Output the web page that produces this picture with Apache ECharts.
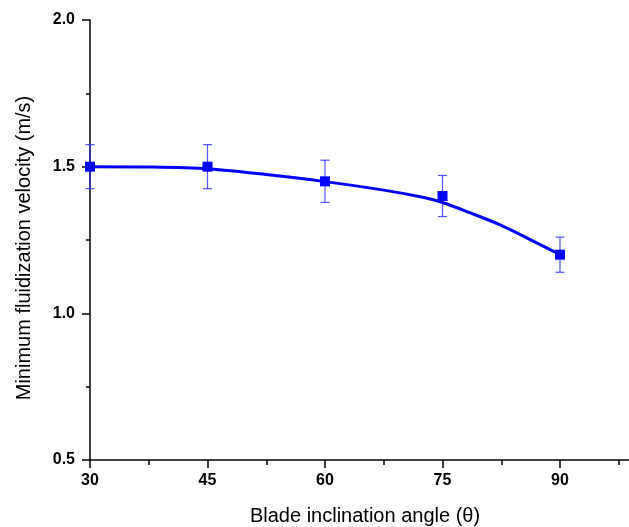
<!DOCTYPE html>
<html>
<head>
<meta charset="utf-8">
<script src="https://cdn.jsdelivr.net/npm/echarts@6/dist/echarts.min.js"></script>
<style>html,body{margin:0;padding:0;background:#fff}#c{width:629px;height:527px}</style>
</head>
<body>
<div id="c"></div>
<script>
// Measured points
var angles = [30, 45, 60, 75, 90];
var velocity = [1.50, 1.50, 1.45, 1.40, 1.20];
var errors = [0.075, 0.075, 0.072, 0.07, 0.06];
// Fitted curve
var fitAngles = [30, 37.5, 45, 52.5, 60, 67.5, 72, 75, 78.5, 82.5, 86, 90];
var fitVelocity = [1.500, 1.499, 1.493, 1.473, 1.449, 1.420, 1.398, 1.378, 1.343, 1.300, 1.254, 1.200];
var xTicks = [30, 45, 60, 75, 90];
var yTicks = [0.5, 1.0, 1.5, 2.0];

var chart = echarts.init(document.getElementById('c'), null, {renderer: 'canvas'});
var blue = '#0000ff';
var font = '"Liberation Sans", Arial, sans-serif';

var pts = angles.map(function (a, i) { return [a, velocity[i]]; });
var errData = angles.map(function (a, i) { return [a, velocity[i] - errors[i], velocity[i] + errors[i]]; });
var fit = fitAngles.map(function (a, i) { return [a, fitVelocity[i]]; });

chart.setOption({
  animation: false,
  backgroundColor: '#fff',
  grid: {left: 90, top: 20, width: 587.5, height: 440, containLabel: false, outerBoundsMode: 'none'},
  xAxis: {
    type: 'value', min: 30, max: 105, interval: 15,
    axisLine: {show: true, lineStyle: {color: '#000', width: 1.5}},
    axisTick: {show: true, length: 8, lineStyle: {color: '#000', width: 1.5}},
    minorTick: {show: true, splitNumber: 2, length: 5, lineStyle: {color: '#000', width: 1.5}},
    splitLine: {show: false},
    axisLabel: {
      color: '#000', fontWeight: 'bold', fontSize: 16, fontFamily: font, margin: 13,
      formatter: function (v) { return xTicks.indexOf(v) >= 0 ? String(v) : ''; }
    }
  },
  yAxis: {
    type: 'value', min: 0.5, max: 2.0, interval: 0.5,
    axisLine: {show: true, lineStyle: {color: '#000', width: 1.5}},
    axisTick: {show: true, length: 8, lineStyle: {color: '#000', width: 1.5}},
    minorTick: {show: true, splitNumber: 2, length: 4, lineStyle: {color: '#000', width: 1.5}},
    splitLine: {show: false},
    axisLabel: {
      color: '#000', fontWeight: 'bold', fontSize: 16, fontFamily: font, margin: 15,
      formatter: function (v) { return yTicks.indexOf(v) >= 0 ? v.toFixed(1) : ''; }
    }
  },
  graphic: [
    {type: 'text', style: {text: 'Blade inclination angle (\u03b8)', fontSize: 20, fontFamily: font, fill: '#000', textAlign: 'center', textVerticalAlign: 'middle'}, x: 365, y: 516},
    {type: 'text', style: {text: 'Minimum fluidization velocity (m/s)', fontSize: 20, fontFamily: font, fill: '#000', textAlign: 'center', textVerticalAlign: 'middle'}, x: 24, y: 248, rotation: Math.PI / 2}
  ],
  series: [
    {
      type: 'line', data: fit, smooth: 0.3, showSymbol: false, symbol: 'none',
      lineStyle: {color: blue, width: 3}, z: 2
    },
    {
      type: 'custom', data: errData, z: 3,
      renderItem: function (params, api) {
        var x = api.value(0);
        var lo = api.coord([x, api.value(1)]);
        var hi = api.coord([x, api.value(2)]);
        var hw = 4.5;
        var st = {stroke: 'rgba(40,40,255,0.8)', lineWidth: 1.2};
        return {type: 'group', children: [
          {type: 'line', shape: {x1: lo[0], y1: lo[1], x2: hi[0], y2: hi[1]}, style: st},
          {type: 'line', shape: {x1: lo[0] - hw, y1: lo[1], x2: lo[0] + hw, y2: lo[1]}, style: st},
          {type: 'line', shape: {x1: hi[0] - hw, y1: hi[1], x2: hi[0] + hw, y2: hi[1]}, style: st}
        ]};
      }
    },
    {
      type: 'scatter', data: pts, symbol: 'rect', symbolSize: 10, z: 4,
      itemStyle: {color: blue, opacity: 1}
    }
  ]
});
</script>
</body>
</html>
